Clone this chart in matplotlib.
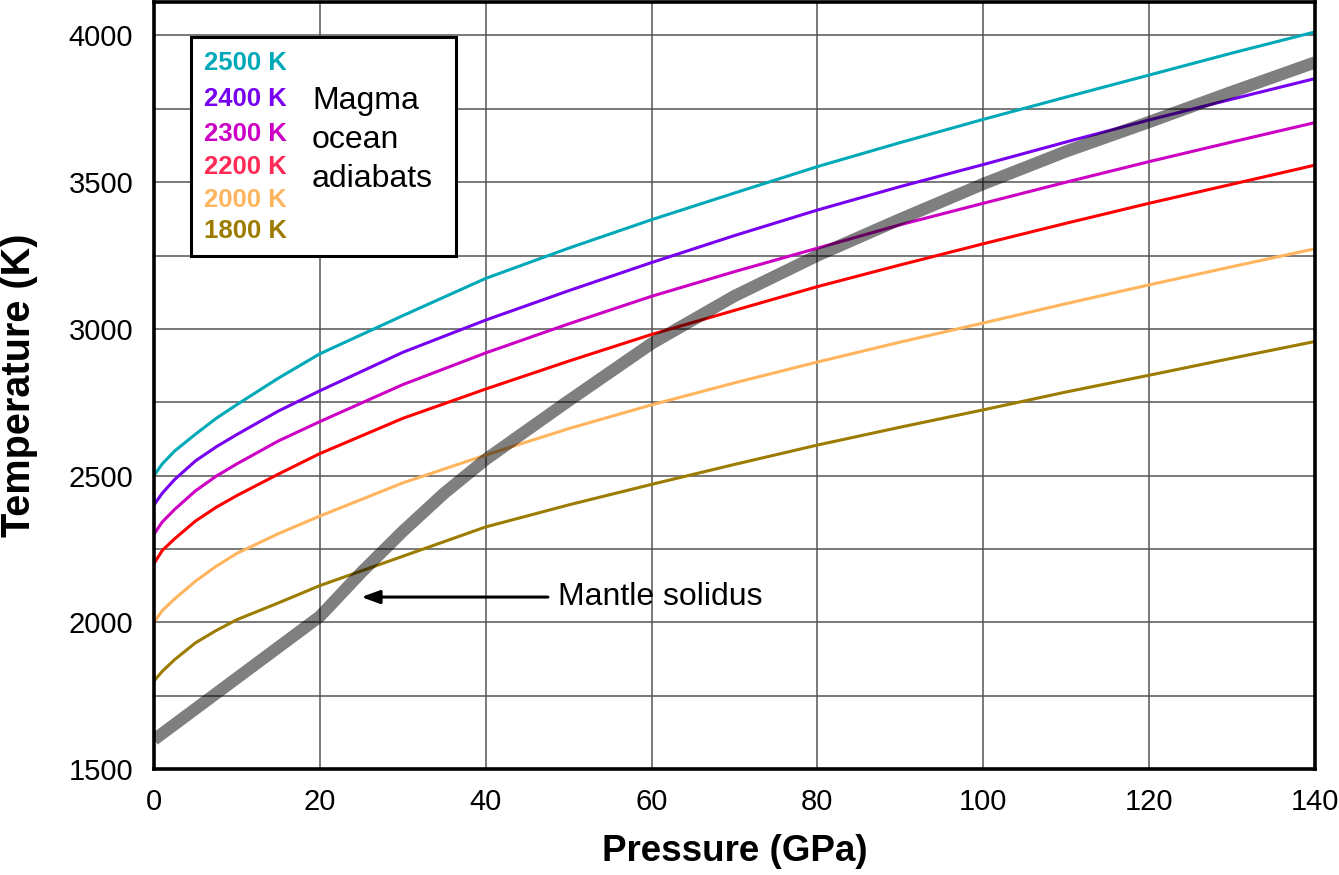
import matplotlib.pyplot as plt
from matplotlib.patches import Rectangle

plt.rcParams['font.family'] = ['Liberation Sans', 'DejaVu Sans']

# pressure grid (GPa) shared by the adiabats
pressure = [0, 1, 2.5, 5, 7.5, 10, 15, 20, 30, 40, 50, 60, 70, 80, 90, 100, 110, 120, 130, 140]

# magma ocean adiabats (K)
adiabat_2500 = [2500, 2540, 2584, 2641, 2695, 2742, 2832, 2915, 3045, 3172, 3275, 3372, 3463, 3553, 3635, 3714, 3790, 3865, 3940, 4012]
adiabat_2400 = [2400, 2440, 2487, 2550, 2598, 2640, 2720, 2789, 2920, 3030, 3130, 3226, 3318, 3405, 3485, 3560, 3637, 3712, 3783, 3853]
adiabat_2300 = [2300, 2342, 2385, 2448, 2498, 2540, 2618, 2684, 2810, 2918, 3017, 3111, 3195, 3275, 3355, 3428, 3500, 3570, 3637, 3703]
adiabat_2200 = [2200, 2245, 2285, 2345, 2392, 2432, 2505, 2575, 2695, 2795, 2890, 2981, 3063, 3144, 3218, 3290, 3360, 3428, 3493, 3558]
adiabat_2000 = [2000, 2040, 2080, 2140, 2191, 2235, 2302, 2362, 2475, 2570, 2660, 2741, 2816, 2887, 2955, 3020, 3086, 3150, 3212, 3273]
adiabat_1800 = [1800, 1833, 1873, 1930, 1972, 2009, 2066, 2125, 2225, 2325, 2400, 2470, 2538, 2604, 2665, 2724, 2785, 2842, 2900, 2957]

adiabats = [adiabat_2500, adiabat_2400, adiabat_2300, adiabat_2200, adiabat_2000, adiabat_1800]
adiabat_labels = ["2500 K", "2400 K", "2300 K", "2200 K", "2000 K", "1800 K"]
line_colors = ["#00A9B8", "#7700F0", "#CC00C4", "#FF0000", "#FFB45E", "#9C7C00"]
text_colors = ["#00A9B8", "#7700F0", "#CC00C4", "#FF2A55", "#FFB45E", "#9C7C00"]

# mantle solidus
solidus_p = [0, 20, 25, 30, 35, 40, 50, 60, 70, 80, 90, 100, 110, 120, 130, 140]
solidus_t = [1600, 2020, 2170, 2310, 2440, 2555, 2755, 2950, 3112, 3250, 3374, 3494, 3605, 3705, 3808, 3908]

fig = plt.figure(figsize=(13.39, 8.75), dpi=100)
ax = fig.add_axes([154 / 1339, 106 / 875, 1161 / 1339, 767.3 / 875])

for temps, color in zip(adiabats, line_colors):
    ax.plot(pressure, temps, color=color, lw=2.2, zorder=2)

# solidus is a translucent black band drawn over the adiabats
ax.plot(solidus_p, solidus_t, color="black", alpha=0.5, lw=8.8,
        solid_joinstyle="miter", solid_capstyle="butt", zorder=3)

ax.set_xlim(0, 140)
ax.set_ylim(1500, 4115)
ax.set_xticks(range(0, 141, 20))
ax.set_yticks(range(1500, 4001, 500))
ax.set_yticks(range(1750, 4001, 500), minor=True)
ax.grid(True, which="both", color="#555555", lw=1.1)
ax.set_axisbelow(True)
ax.tick_params(which="both", length=0)
ax.tick_params(axis="y", labelsize=21, pad=15)
ax.tick_params(axis="x", labelsize=21, pad=14)
for sp in ax.spines.values():
    sp.set_linewidth(2.6)
    sp.set_zorder(5)

ax.set_xlabel("Pressure (GPa)", fontsize=26.5, fontweight="bold")
ax.set_ylabel("Temperature (K)", fontsize=28.5, fontweight="bold")
ax.xaxis.set_label_coords(0.5, -0.085)
ax.yaxis.set_label_coords(-0.1, 0.5)

# legend box
box = Rectangle((4.43, 3248), 32.0, 748, facecolor="white", edgecolor="black",
                lw=2.2, zorder=4)
ax.add_patch(box)
label_y = [3905, 3783, 3664, 3553, 3439, 3335]
for lab, c, y in zip(adiabat_labels, text_colors, label_y):
    ax.text(6.0, y, lab, color=c, fontsize=18.5, fontweight="bold",
            ha="left", va="center", zorder=6)
ax.text(19.05, 3644, "Magma\nocean\nadiabats", fontsize=23, ha="left",
        va="center", linespacing=1.4, zorder=6)

ax.annotate("", xy=(25.0, 2086), xytext=(47.5, 2086),
            arrowprops=dict(arrowstyle="-|>,head_length=1.1,head_width=0.4",
                            color="black", lw=2.2, shrinkA=0, shrinkB=0),
            zorder=6)
ax.text(48.75, 2086, "Mantle solidus", fontsize=23, ha="left", va="center", zorder=6)

fig.savefig("out.png", dpi=100)
